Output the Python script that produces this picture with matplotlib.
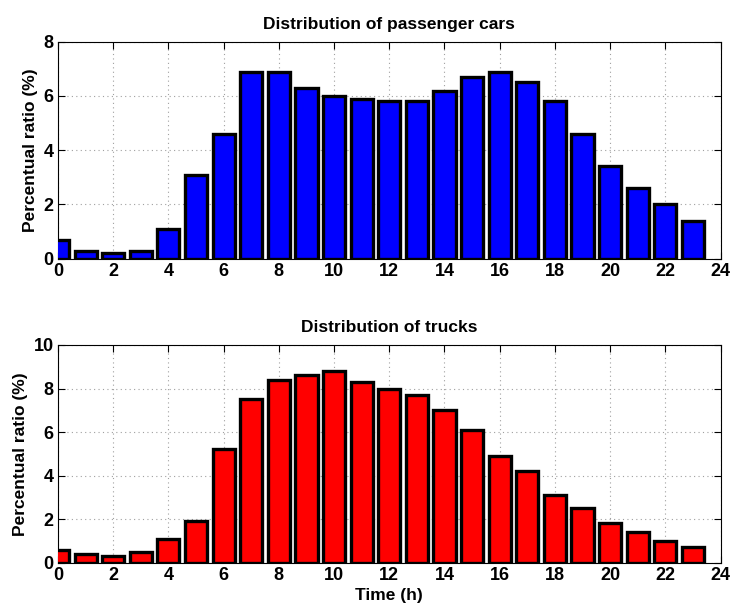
import matplotlib
matplotlib.use("Agg")
import matplotlib.pyplot as plt
import numpy as np

hours = np.arange(24)
cars = [0.7, 0.3, 0.2, 0.3, 1.1, 3.1, 4.6, 6.9, 6.9, 6.3, 6.0, 5.9,
        5.8, 5.8, 6.2, 6.7, 6.9, 6.5, 5.8, 4.6, 3.4, 2.6, 2.0, 1.4]
trucks = [0.6, 0.4, 0.3, 0.5, 1.1, 1.9, 5.2, 7.5, 8.4, 8.6, 8.8, 8.3,
          8.0, 7.7, 7.0, 6.1, 4.9, 4.2, 3.1, 2.5, 1.8, 1.4, 1.0, 0.7]

plt.rcParams["font.family"] = ["Liberation Sans", "DejaVu Sans"]
plt.rcParams["font.weight"] = "bold"

fig = plt.figure(figsize=(7.3, 6.07), dpi=100)
ax1 = fig.add_axes([0.0795, 0.5738, 0.9075, 0.3575])
ax2 = fig.add_axes([0.0795, 0.0730, 0.9075, 0.3587])


def style(ax, ymax, title):
    ax.set_xlim(0, 24)
    ax.set_ylim(0, ymax)
    ax.set_xticks(np.arange(0, 25, 2))
    ax.set_yticks(np.arange(0, ymax + 0.1, 2))
    ax.grid(True, linestyle=(0, (1, 3)), color="#a0a0a0", linewidth=0.8)
    ax.set_axisbelow(True)
    ax.tick_params(direction="in", top=True, right=True, length=5,
                   labelsize=13, pad=3, width=0.8)
    for lab in ax.get_xticklabels() + ax.get_yticklabels():
        lab.set_fontweight("bold")
    for s in ax.spines.values():
        s.set_linewidth(0.8)
    ax.set_title(title, fontsize=12.5, fontweight="bold", pad=9)
    ax.set_ylabel("Percentual ratio (%)", fontsize=12.5, fontweight="bold",
                  labelpad=4)


ax1.bar(hours, cars, width=0.8, color="#0000ff", edgecolor="black",
        linewidth=2.4, zorder=3)
style(ax1, 8, "Distribution of passenger cars")

ax2.bar(hours, trucks, width=0.8, color="#ff0000", edgecolor="black",
        linewidth=2.4, zorder=3)
style(ax2, 10, "Distribution of trucks")
ax2.set_xlabel("Time (h)", fontsize=12.5, fontweight="bold", labelpad=3)

fig.savefig("out.png", dpi=100)
